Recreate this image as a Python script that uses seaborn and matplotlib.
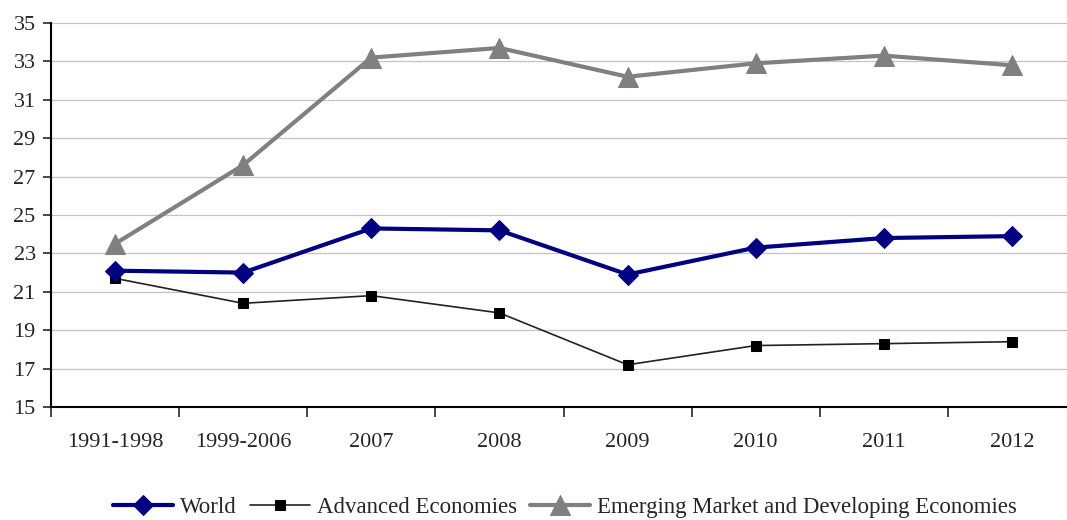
import seaborn as sns
import matplotlib.pyplot as plt
import pandas as pd

periods = ['1991-1998', '1999-2006', '2007', '2008', '2009', '2010', '2011', '2012']
world = [22.1, 22.0, 24.3, 24.2, 21.9, 23.3, 23.8, 23.9]
advanced = [21.7, 20.4, 20.8, 19.9, 17.2, 18.2, 18.3, 18.4]
emerging = [23.5, 27.6, 33.2, 33.7, 32.2, 32.9, 33.3, 32.8]

sns.set_style('white')
plt.rcParams['font.family'] = ['Liberation Serif', 'DejaVu Serif']

fig = plt.figure(figsize=(10.67, 5.2), dpi=100)
ax = fig.add_axes([51 / 1067, 113 / 520, 1025 / 1067, 384 / 520])

df = pd.DataFrame({'period': periods, 'World': world,
                   'Advanced Economies': advanced,
                   'Emerging Market and Developing Economies': emerging})

sns.lineplot(data=df, x='period', y='Advanced Economies', ax=ax, sort=False,
             color='#222222', lw=1.2, marker='s', ms=7, mfc='black', mec='black',
             label='Advanced Economies')
sns.lineplot(data=df, x='period', y='World', ax=ax, sort=False, color='#000080',
             lw=3, marker='D', ms=10, mec='#000080', label='World')
sns.lineplot(data=df, x='period', y='Emerging Market and Developing Economies', ax=ax,
             sort=False, color='#808080', lw=3, marker='^', ms=14, mec='#808080',
             label='Emerging Market and Developing Economies')

ax.set_xlim(-0.5, 7.5)
ax.set_ylim(15, 35)
ax.set_yticks(range(15, 36, 2))
ax.set_xticks(range(8))
ax.set_xticklabels(periods)
ax.set_xticks([i - 0.5 for i in range(9)], minor=True)
ax.set_xlabel('')
ax.set_ylabel('')
ax.grid(axis='y', color='#a0a0a0', lw=0.9, ls=(0, (1, 0.6)))
ax.set_axisbelow(True)
for s in ['top', 'right']:
    ax.spines[s].set_visible(False)
for s in ['left', 'bottom']:
    ax.spines[s].set_color('black')
    ax.spines[s].set_linewidth(1.5)
ax.tick_params(axis='y', left=True, length=6, width=1.2, pad=5, labelsize=16)
ax.tick_params(axis='x', which='major', bottom=False, length=0, pad=19, labelsize=16)
ax.tick_params(axis='x', which='minor', bottom=True, length=7, width=1.2)

ax.get_legend().remove()
h, l = ax.get_legend_handles_labels()
order = [1, 0, 2]
fig.legend([h[i] for i in order], [l[i] for i in order], loc='center',
           bbox_to_anchor=(565 / 1067, 1 - 507 / 520), ncol=3,
           frameon=False, fontsize=16.5, handlelength=2.6, columnspacing=0.6,
           handletextpad=0.3)

fig.savefig('out.png', dpi=100)
